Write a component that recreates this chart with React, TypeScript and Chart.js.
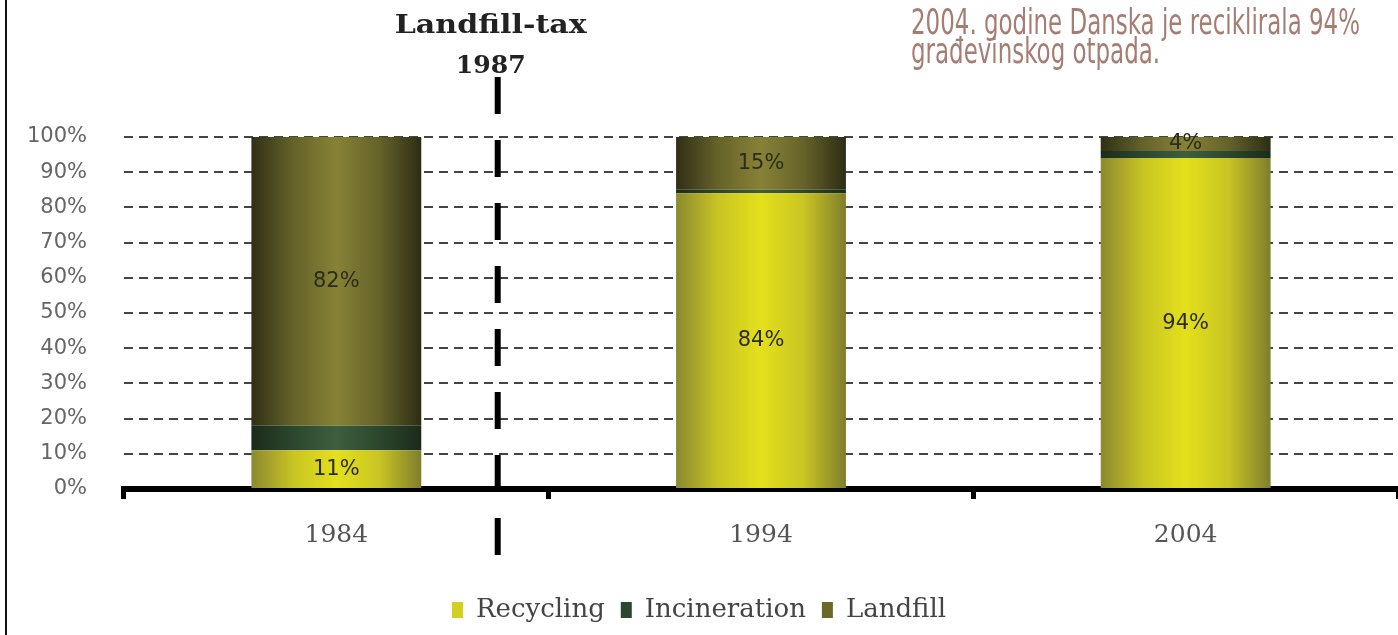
import React, { useEffect, useRef } from 'react';
import { Chart, registerables } from 'chart.js';

Chart.register(...registerables);

// ---- data ----
const CATEGORIES = ['1984', '1994', '2004'];
const SERIES_NAMES = ['Recycling', 'Incineration', 'Landfill'];
const RECYCLING = [11, 84, 94];
const INCINERATION = [7, 1, 2];
const LANDFILL = [82, 15, 4];
const SHOW_VALUES = [true, false, true];
const Y_MIN = 0;
const Y_MAX = 100;
const Y_STEP = 10;
const MARKER_TITLE = 'Landfill-tax';
const MARKER_YEAR = '1987';
const MARKER_AT = 0.38; // position along the category axis
const NOTE_LINES = ['2004. godine Danska je reciklirala 94%', 'građevinskog otpada.'];

// ---- styles ----
const GRADIENTS = [
  ['#8a892e', '#c9c523', '#e4e01b', '#c9c523', '#7f7e2c'],
  ['#1b2b1b', '#2c472d', '#3e5e3e', '#2c472d', '#1b2b1b'],
  ['#302f16', '#66632a', '#878236', '#66632a', '#2e2d14'],
];
const LEGEND_COLORS = ['#d4d01f', '#2c472d', '#6b6828'];
const BAR_PCT = 0.4;
const X_SCALE_HEIGHT = 92;

function barFill(i: number) {
  return (c: any) => {
    const chart = c.chart;
    const xs = chart.scales && chart.scales.x;
    if (c.type !== 'data' || !xs || !xs.width) return LEGEND_COLORS[i];
    const cx = xs.getPixelForValue(c.dataIndex);
    const w = (xs.width / CATEGORIES.length) * BAR_PCT;
    const g = chart.ctx.createLinearGradient(cx - w / 2, 0, cx + w / 2, 0);
    const stops = GRADIENTS[i];
    stops.forEach((col, k) => g.addColorStop(k / (stops.length - 1), col));
    return g;
  };
}

function drawStretched(ctx: CanvasRenderingContext2D, text: string, x: number, y: number, targetW: number, align: 'left' | 'center') {
  const w = ctx.measureText(text).width;
  const s = targetW / w;
  ctx.save();
  ctx.translate(x, y);
  ctx.scale(s, 1);
  ctx.textAlign = align;
  ctx.fillText(text, 0, 0);
  ctx.restore();
  return s;
}

const decorations = {
  id: 'decorations',
  afterDatasetsDraw(chart: any) {
    const ctx = chart.ctx as CanvasRenderingContext2D;
    ctx.save();
    ctx.font = '21px "DejaVu Sans", sans-serif';
    ctx.fillStyle = '#2c2c1c';
    ctx.textAlign = 'center';
    ctx.textBaseline = 'middle';
    chart.data.datasets.forEach((ds: any, di: number) => {
      if (!SHOW_VALUES[di]) return;
      const meta = chart.getDatasetMeta(di);
      meta.data.forEach((el: any, i: number) => {
        const v = ds.data[i];
        if (!v) return;
        const p = el.getProps(['x', 'y', 'base'], true);
        ctx.fillText(v + '%', p.x, (p.y + p.base) / 2);
      });
    });
    ctx.restore();
  },
  afterDraw(chart: any) {
    const ctx = chart.ctx as CanvasRenderingContext2D;
    const xs = chart.scales.x;
    ctx.save();
    // left frame line
    ctx.fillStyle = '#111';
    ctx.fillRect(5, 0, 2, chart.height);

    // 1987 marker
    const mx = xs.getPixelForValue(MARKER_AT);
    ctx.strokeStyle = '#000';
    ctx.lineWidth = 6;
    ctx.setLineDash([37, 26]);
    ctx.beginPath();
    ctx.moveTo(mx, 77);
    ctx.lineTo(mx, 556);
    ctx.stroke();
    ctx.setLineDash([]);

    ctx.fillStyle = '#222';
    ctx.textBaseline = 'alphabetic';
    ctx.font = 'bold 26px "DejaVu Serif", serif';
    drawStretched(ctx, MARKER_TITLE, mx - 7, 33, 192, 'center');
    ctx.font = 'bold 25px "DejaVu Serif", serif';
    drawStretched(ctx, MARKER_YEAR, mx - 7, 73, 70, 'center');

    // note text
    ctx.fillStyle = '#a67d72';
    ctx.font = '35px "Liberation Sans Narrow", "DejaVu Sans Condensed", "Noto Sans", sans-serif';
    const w1 = ctx.measureText(NOTE_LINES[0]).width;
    const s = 449 / w1;
    NOTE_LINES.forEach((line, i) => {
      ctx.save();
      ctx.translate(911, 34 + i * 29);
      ctx.scale(s, 1);
      ctx.textAlign = 'left';
      ctx.fillText(line, 0, 0);
      ctx.restore();
    });
    ctx.restore();
  },
};

export default function App() {
  const ref = useRef<HTMLCanvasElement | null>(null);

  useEffect(() => {
    if (!ref.current) return;
    const series = [RECYCLING, INCINERATION, LANDFILL];
    const chart = new Chart(ref.current, {
      type: 'bar',
      data: {
        labels: CATEGORIES,
        datasets: series.map((data, i) => ({
          label: SERIES_NAMES[i],
          data,
          backgroundColor: barFill(i) as any,
          borderWidth: 0,
          barPercentage: BAR_PCT,
          categoryPercentage: 1,
        })),
      },
      options: {
        animation: false,
        responsive: true,
        maintainAspectRatio: false,
        layout: { padding: { top: 137, left: 0, right: 0, bottom: 2 } },
        plugins: {
          legend: {
            position: 'bottom',
            labels: {
              font: { family: '"DejaVu Serif", serif', size: 26 },
              color: '#444',
              boxWidth: 11,
              boxHeight: 16,
              padding: 16,
              generateLabels: (c: any) =>
                c.data.datasets.map((ds: any, i: number) => ({
                  text: ds.label,
                  fillStyle: LEGEND_COLORS[i],
                  strokeStyle: LEGEND_COLORS[i],
                  lineWidth: 0,
                  hidden: false,
                  datasetIndex: i,
                  fontColor: '#444',
                })),
            },
          },
          tooltip: { enabled: false },
        },
        scales: {
          x: {
            stacked: true,
            offset: true,
            grid: {
              display: true,
              drawOnChartArea: false,
              drawTicks: true,
              tickLength: 10,
              tickWidth: 5,
              tickColor: '#000',
              offset: true,
            },
            border: { display: true, color: '#000', width: 6 },
            ticks: {
              font: { family: '"DejaVu Serif", serif', size: 25 },
              color: '#555',
              padding: 21,
            },
            afterFit: (s: any) => {
              s.height = X_SCALE_HEIGHT;
            },
          },
          y: {
            stacked: true,
            min: Y_MIN,
            max: Y_MAX,
            ticks: {
              stepSize: Y_STEP,
              callback: (v: any) => v + '%',
              font: { family: '"DejaVu Sans", sans-serif', size: 21 },
              color: '#666',
              padding: 37,
            },
            grid: { color: '#444', lineWidth: 2, drawTicks: false },
            border: { display: false, dash: [9, 6] },
            afterFit: (s: any) => {
              s.width = 124;
            },
          },
        },
      },
      plugins: [decorations],
    });
    return () => chart.destroy();
  }, []);

  return (
    <div style={{ position: 'fixed', left: 0, top: 0, width: 1398, height: 635, background: '#fff' }}>
      <canvas ref={ref} />
    </div>
  );
}
